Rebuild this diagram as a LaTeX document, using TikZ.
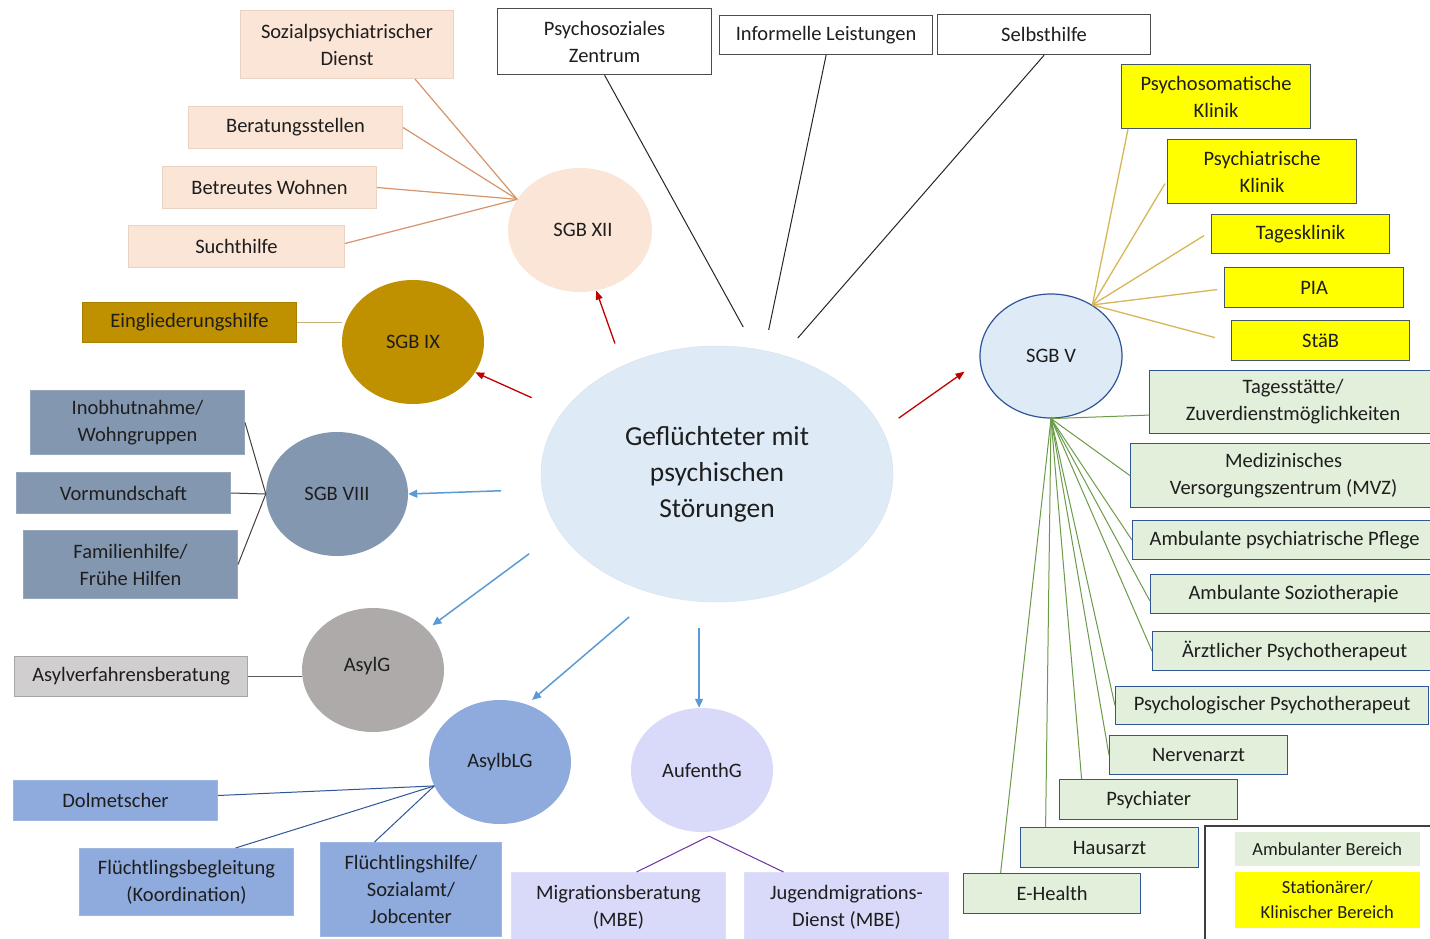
\documentclass[tikz,border=0pt]{standalone}
\usepackage{fontspec}
\setmainfont{Carlito}
\usetikzlibrary{shapes.geometric,arrows.meta}
\definecolor{txt}{HTML}{1E1E1E}
\definecolor{peach}{HTML}{FBE5D6}
\definecolor{peachedge}{HTML}{EBD3C3}
\definecolor{peachln}{HTML}{D4956A}
\definecolor{gold}{HTML}{BF9000}
\definecolor{goldedge}{HTML}{A88000}
\definecolor{goldln}{HTML}{C8B27A}
\definecolor{yel}{HTML}{FFFF00}
\definecolor{yeledge}{HTML}{44546A}
\definecolor{yelln}{HTML}{D6B656}
\definecolor{grn}{HTML}{E2EFDA}
\definecolor{grnedge}{HTML}{2F5597}
\definecolor{grnln}{HTML}{6B9B48}
\definecolor{slate}{HTML}{8497B0}
\definecolor{asylfill}{HTML}{D0CECE}
\definecolor{asylcirc}{HTML}{AEAAAA}
\definecolor{bluefill}{HTML}{8FAADC}
\definecolor{lav}{HTML}{D9D9FA}
\definecolor{lightblue}{HTML}{DEEBF7}
\definecolor{arrred}{HTML}{C00000}
\definecolor{arrblue}{HTML}{5B9BD5}
\definecolor{dkblue}{HTML}{2F5597}
\definecolor{purp}{HTML}{7030A0}
\begin{document}
\begin{tikzpicture}[x=1pt,y=-1pt,
  wh/.style 2 args={minimum width=#1pt,minimum height=#2pt},
  box/.style={rectangle, inner sep=0pt, align=center, anchor=north west,
    font=\fontsize{20.5}{27}\selectfont, text=txt, line width=1pt},
  peachbox/.style={box, fill=peach, draw=peachedge},
  goldbox/.style={box, fill=gold, draw=goldedge},
  whitebox/.style={box, fill=white, draw=black!70, line width=1.2pt},
  yelbox/.style={box, fill=yel, draw=yeledge, line width=1.2pt},
  grnbox/.style={box, fill=grn, draw=grnedge, line width=1.2pt},
  slatebox/.style={box, fill=slate, draw=slate!85!white},
  asylbox/.style={box, fill=asylfill, draw=black!35, line width=1.2pt},
  bluebox/.style={box, fill=bluefill, draw=bluefill!85!white},
  lavbox/.style={box, fill=lav, draw=lav!85!white},
  legbox/.style={box, font=\fontsize{18.5}{25}\selectfont, draw=white, line width=1.5pt},
  ell/.style={ellipse, inner sep=0pt, align=center, text=txt,
    font=\fontsize{20.5}{24}\selectfont},
  ln/.style={line width=1pt},
  redarr/.style={draw=arrred, line width=1.3pt, -{Triangle[length=9pt,width=7pt]}},
  bluearr/.style={draw=arrblue, line width=1.5pt, -{Triangle[length=9pt,width=8pt]}}
]
\useasboundingbox (0,0) rectangle (1430,939);
\fill[white] (0,0) rectangle (1430,939);

% ---- ellipses ----
\node[ell, fill=lightblue, draw=lightblue!80!black!20!lightblue, wh={352}{256},
  font=\fontsize{27.5}{36}\selectfont] (c) at (717,474) {Geflüchteter mit\\psychischen\\Störungen};
\node[ell, fill=peach, wh={144}{124}] (sgbxii) at (580,230) {\hspace{6pt}SGB XII};
\node[ell, fill=gold, wh={142}{124}] (sgbix) at (413,342) {SGB IX};
\node[ell, fill=slate, wh={142}{124}] (sgbviii) at (337,494) {SGB VIII};
\node[ell, fill=asylcirc, wh={142}{124}] (asylg) at (373,670) {\raisebox{12pt}{AsylG}\hspace{12pt}};
\node[ell, fill=bluefill, wh={142}{124}] (asylblg) at (500,762) {\raisebox{4pt}{AsylbLG}};
\node[ell, fill=lav, wh={142}{124}] (aufg) at (702,770) {AufenthG};
\node[ell, fill=lightblue, draw=dkblue, line width=1.2pt, wh={142}{124}] (sgbv) at (1051,356) {SGB V};

% ---- SGB XII boxes ----
\node[peachbox, wh={213}{68}] (soz) at (240,10) {Sozialpsychiatrischer\\Dienst};
\node[peachbox, wh={214}{42}] (berat) at (188,106) {Beratungsstellen};
\node[peachbox, wh={214}{42}] (betr) at (162,166) {Betreutes Wohnen};
\node[peachbox, wh={216}{42}] (sucht) at (128,225) {Suchthilfe};

% ---- SGB IX ----
\node[goldbox, wh={214}{40}] (ein) at (82,302) {Eingliederungshilfe};

% ---- top white boxes ----
\node[whitebox, wh={214}{66}] (psz) at (497,8) {Psychosoziales\\Zentrum};
\node[whitebox, wh={213}{39}] (info) at (719,15) {Informelle Leistungen};
\node[whitebox, wh={213}{40}] (sh) at (937,14) {Selbsthilfe};

% ---- yellow boxes ----
\node[yelbox, wh={189}{64}] (psk) at (1121,64) {Psychosomatische\\Klinik};
\node[yelbox, wh={189}{64}] (pk) at (1167,139) {Psychiatrische\\Klinik};
\node[yelbox, wh={178}{39}] (tk) at (1211,214) {Tagesklinik};
\node[yelbox, wh={179}{40}] (pia) at (1224,267) {PIA};
\node[yelbox, wh={178}{40}] (staeb) at (1231,320) {StäB};

% ---- green boxes ----
\node[grnbox, wh={287}{63}] (tag) at (1149,370) {Tagesstätte/\\Zuverdienstmöglichkeiten};
\node[grnbox, wh={306}{64}] (mvz) at (1130,443) {Medizinisches\\Versorgungszentrum (MVZ)};
\node[grnbox, wh={304}{39}] (pfl) at (1132,520) {Ambulante psychiatrische Pflege};
\node[grnbox, wh={286}{39}] (sozio) at (1150,574) {Ambulante Soziotherapie};
\node[grnbox, wh={284}{39}] (aerzt) at (1152,631) {Ärztlicher Psychotherapeut};
\node[grnbox, wh={313}{38}] (psyth) at (1115,686) {Psychologischer Psychotherapeut};
\node[grnbox, wh={178}{39}] (nerv) at (1109,735) {Nervenarzt};
\node[grnbox, wh={178}{40}] (psychiater) at (1059,779) {Psychiater};
\node[grnbox, wh={178}{40}] (haus) at (1020,827) {Hausarzt};
\node[grnbox, wh={177}{40}] (eh) at (963,873) {E-Health};

% ---- SGB VIII boxes ----
\node[slatebox, wh={214}{64}] (inob) at (30,390) {Inobhutnahme/\\Wohngruppen};
\node[slatebox, wh={214}{41}] (vorm) at (16,472) {Vormundschaft};
\node[slatebox, wh={214}{68}] (fam) at (23,530) {Familienhilfe/\\Frühe Hilfen};

% ---- AsylG ----
\node[asylbox, wh={233}{40}] (asylv) at (14,656) {Asylverfahrensberatung};

% ---- AsylbLG ----
\node[bluebox, wh={204}{40}] (dolm) at (13,780) {Dolmetscher};
\node[bluebox, wh={214}{67}] (flb) at (79,848) {Flüchtlingsbegleitung\\(Koordination)};
\node[bluebox, wh={181}{94}] (flh) at (320,842) {Flüchtlingshilfe/\\Sozialamt/\\Jobcenter};

% ---- AufenthG ----
\node[lavbox, wh={214}{69}] (mig) at (511,872) {Migrationsberatung\\(MBE)};
\node[lavbox, wh={204}{69}] (jug) at (744,872) {Jugendmigrations-\\Dienst (MBE)};

% ---- legend ----
\draw[line width=2pt, black!75] (1205,945) -- (1205,826) -- (1440,826);
\node[legbox, fill=grn, wh={187}{36}] (leg1) at (1233,830) {Ambulanter Bereich};
\node[legbox, fill=yel, wh={187}{58}] (leg2) at (1233,870) {Stationärer/\\Klinischer Bereich};

% ---- connectors ----
\draw[ln, peachln, line width=1.2pt] (sgbxii.154) -- ([xshift=-39pt]soz.south east);
\draw[ln, peachln, line width=1.2pt] (sgbxii.154) -- (berat.east);
\draw[ln, peachln, line width=1.2pt] (sgbxii.154) -- (betr.east);
\draw[ln, peachln, line width=1.2pt] (sgbxii.154) -- ([yshift=3pt]sucht.east);

\draw[ln, goldln, line width=1.5pt] (ein.east) -- (sgbix.west |- ein.east);

\draw[ln, black!85, shorten >=25pt] (psz.south) -- (c.73.5);
\draw[ln, black!85, shorten >=21pt] (info.south) -- (c.69.3);
\draw[ln, black!85, shorten >=22.5pt] (sh.south) -- (c.61.3);

\draw[redarr, shorten <=23.5pt] (c.131.6) -- (sgbxii.285);
\draw[redarr, shorten <=34.4pt] (c.158.3) -- (sgbix.334.1);
\draw[redarr, shorten <=20pt, shorten >=18.5pt] (c.15.1) -- (sgbv.184.4);

\draw[bluearr, shorten <=41pt] (c.185) -- (sgbviii.east);
\draw[bluearr, shorten <=37.7pt, shorten >=6.9pt] (c.200.7) -- (asylg.37.5);
\draw[bluearr, shorten <=35pt, shorten >=6.9pt] (c.243.4) -- (asylblg.65.1);
\draw[bluearr, shorten <=26.6pt] (c.262.4) -- (c.262.4 |- aufg.north);

\draw[ln, black!75] (sgbviii.west) -- (inob.east);
\draw[ln, black!75] (sgbviii.west) -- (vorm.east);
\draw[ln, black!75] (sgbviii.west) -- (fam.east);

\draw[ln, black!65, line width=1.3pt] (asylv.east) -- (asylg.west |- asylv.east);

\draw[ln, dkblue] (asylblg.200.5) -- ([yshift=5pt]dolm.east);
\draw[ln, dkblue] (asylblg.200.5) -- ([xshift=49pt]flb.north);
\draw[ln, dkblue] (asylblg.200.5) -- ([xshift=-36.5pt]flh.north);

\coordinate (aufhub) at ([xshift=7pt,yshift=-4pt]aufg.south);
\draw[ln, purp] (aufhub) -- ([xshift=18pt]mig.north);
\draw[ln, purp] (aufhub) -- ([xshift=-63pt]jug.north);

\draw[ln, yelln, line width=1.3pt] (sgbv.51) -- ([xshift=7pt]psk.south west);
\draw[ln, yelln, line width=1.3pt] (sgbv.51) -- ([xshift=-2pt,yshift=-12pt]pk.west);
\draw[ln, yelln, line width=1.3pt] (sgbv.51) -- ([xshift=-7pt,yshift=-1.5pt]tk.west);
\draw[ln, yelln, line width=1.3pt] (sgbv.51) -- ([xshift=-7pt,yshift=-2pt]pia.west);
\draw[ln, yelln, line width=1.3pt] (sgbv.51) -- ([xshift=-16pt,yshift=3pt]staeb.west);

\draw[ln, grnln] (sgbv.south) -- ([yshift=-13pt]tag.west);
\draw[ln, grnln] (sgbv.south) -- (mvz.west);
\draw[ln, grnln] (sgbv.south) -- (pfl.west);
\draw[ln, grnln] (sgbv.south) -- ([yshift=-7pt]sozio.west);
\draw[ln, grnln] (sgbv.south) -- (aerzt.west);
\draw[ln, grnln] (sgbv.south) -- (psyth.west);
\draw[ln, grnln] (sgbv.south) -- (nerv.west);
\draw[ln, grnln] (sgbv.south) -- ([xshift=-67pt]psychiater.north);
\draw[ln, grnln] (sgbv.south) -- ([xshift=-64pt]haus.north);
\draw[ln, grnln] (sgbv.south) -- ([xshift=-51.5pt]eh.north);
\end{tikzpicture}
\end{document}
